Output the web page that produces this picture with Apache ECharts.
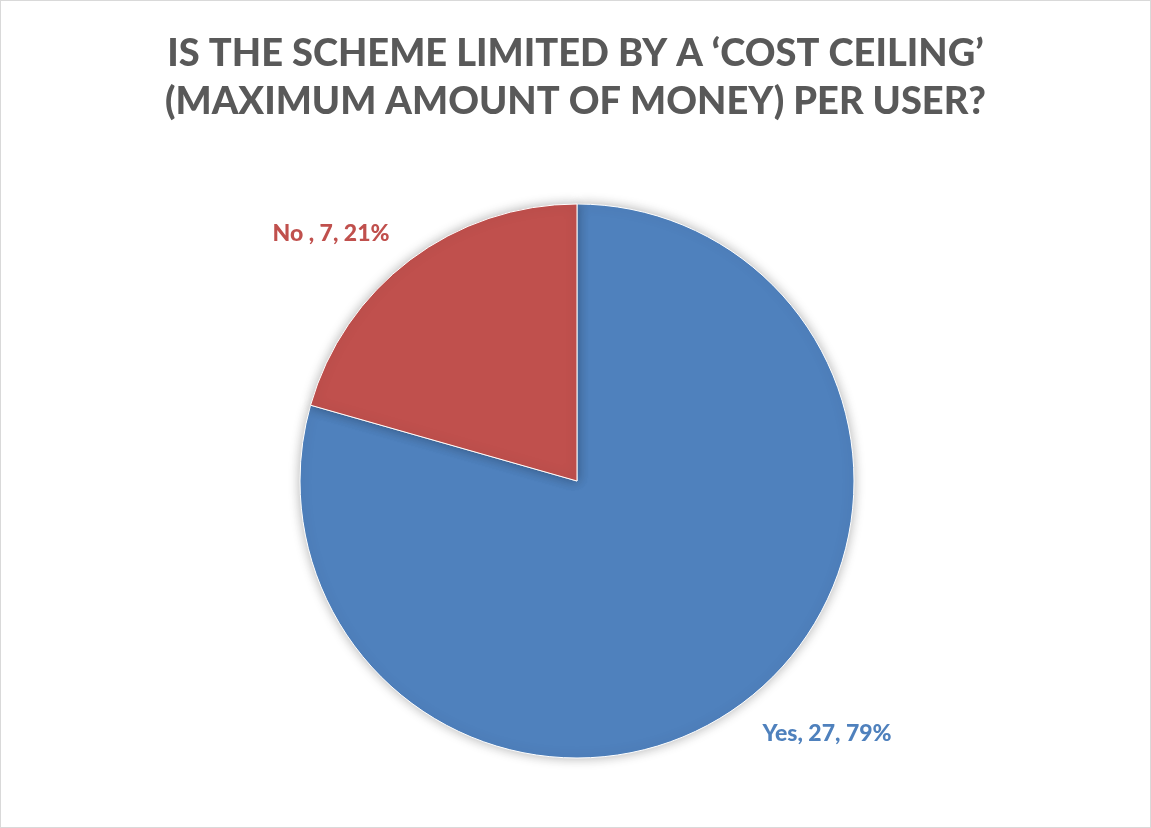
<!DOCTYPE html>
<html lang="en" style="height: 100%">
<head>
   <meta charset="utf-8">
   <style>
      html,
      body {
         margin: 0;
         padding: 0;
         width: 100%;
         height: 100%;
         overflow: hidden;
         background: #fff;
      }
      #container {
         position: absolute;
         left: 0;
         top: 0;
         width: 1149px;
         height: 826px;
         border: 1px solid #d9d9d9;
      }
   </style>
</head>
<body>
   <div id="container"></div>

   <script type="text/javascript" src="https://cdn.jsdelivr.net/npm/echarts@6/dist/echarts.min.js"></script>
   <script type="text/javascript">
      var dom = document.getElementById('container');
      var myChart = echarts.init(dom, null, { renderer: 'canvas' });

      // data
      let categories = ['Yes', 'No '];
      let counts = [27, 7];
      let percents = ['79%', '21%'];
      let colors = ['#4f81bd', '#c0504d'];

      let pieData = categories.map(function (c, i) {
         return {
            name: c,
            value: counts[i],
            itemStyle: { color: colors[i] },
            label: { color: colors[i] }
         };
      });

      // label anchor points (Excel places them by hand)
      let labelPos = [[826, 733], [330, 233]];

      var option = {
         title: {
            text: 'IS THE SCHEME LIMITED BY A \u2018COST CEILING\u2019\n(MAXIMUM AMOUNT OF MONEY) PER USER?',
            left: 'center',
            top: 24,
            textStyle: {
               fontFamily: 'Lato',
               fontWeight: 900,
               fontSize: 38,
               lineHeight: 48,
               color: '#595959'
            }
         },
         series: [
            {
               type: 'pie',
               center: [576, 480],
               radius: 277,
               startAngle: 90,
               clockwise: true,
               silent: true,
               data: pieData,
               itemStyle: {
                  borderColor: '#ffffff',
                  borderWidth: 1,
                  shadowBlur: 12,
                  shadowColor: 'rgba(0,0,0,0.3)'
               },
               label: {
                  show: true,
                  position: 'outside',
                  fontFamily: 'Lato',
                  fontWeight: 900,
                  fontSize: 23,
                  formatter: function (p) {
                     return p.name + ', ' + p.value + ', ' + percents[p.dataIndex];
                  }
               },
               labelLine: { show: false },
               labelLayout: function (params) {
                  let p = labelPos[params.dataIndex];
                  return { x: p[0], y: p[1], align: 'center', verticalAlign: 'middle' };
               }
            }
         ]
      };

      myChart.setOption(option);
      window.addEventListener('resize', myChart.resize);
   </script>
</body>
</html>
